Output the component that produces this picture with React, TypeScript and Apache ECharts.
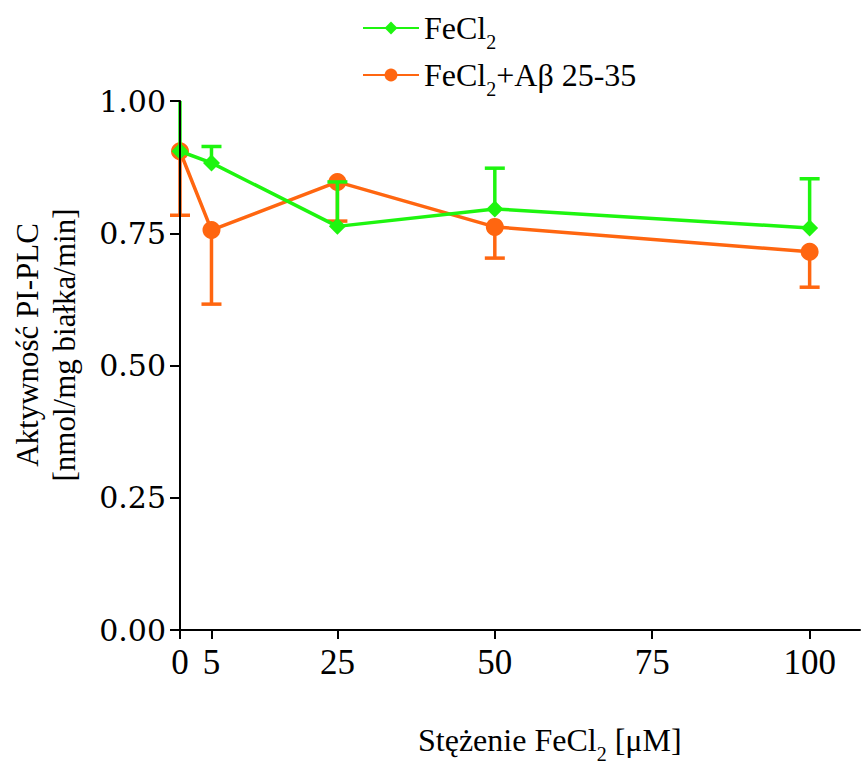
import React, { useEffect, useRef } from "react";
import * as echarts from "echarts";

const concentrations = [0, 5, 25, 50, 100];
const fecl2Mean = [0.905, 0.883, 0.763, 0.796, 0.76];
const fecl2ErrUp = [0.1, 0.031, 0.084, 0.077, 0.093];
const abMean = [0.905, 0.756, 0.847, 0.762, 0.715];
const abErrDown = [0.121, 0.14, 0.074, 0.059, 0.067];
const xTicks = [0, 5, 25, 50, 75, 100];
const yTicks = [0, 0.25, 0.5, 0.75, 1.0];

const GREEN = "#1ef50f";
const ORANGE = "#ff6610";

function errorSeries(name: string, color: string, data: number[][], z: number) {
  return {
    type: "custom",
    name: name + "_err",
    z,
    clip: false,
    silent: true,
    data,
    renderItem: (params: any, api: any) => {
      const x = api.value(0);
      const y0 = api.value(1);
      const y1 = api.value(2);
      const p0 = api.coord([x, y0]);
      const p1 = api.coord([x, y1]);
      const top = params.coordSys.y;
      const clipped = p1[1] < top;
      const yEnd = clipped ? top : p1[1];
      const hw = 10;
      const style = { stroke: color, lineWidth: 3.5 };
      const children: any[] = [
        { type: "line", shape: { x1: p0[0], y1: p0[1], x2: p1[0], y2: yEnd }, style },
      ];
      if (!clipped) {
        children.push({ type: "line", shape: { x1: p1[0] - hw, y1: p1[1], x2: p1[0] + hw, y2: p1[1] }, style });
      }
      return { type: "group", children };
    },
  };
}

export default function App() {
  const ref = useRef<HTMLDivElement>(null);
  useEffect(() => {
    if (!ref.current) return;
    const chart = echarts.init(ref.current, undefined, { renderer: "svg" });
    const serif = "Times New Roman";
    const tickFont = "DejaVu Serif";
    const greenData = concentrations.map((c, i) => [c, fecl2Mean[i]]);
    const abData = concentrations.map((c, i) => [c, abMean[i]]);
    const greenErr = concentrations.map((c, i) => [c, fecl2Mean[i], fecl2Mean[i] + fecl2ErrUp[i]]);
    const abErr = concentrations.map((c, i) => [c, abMean[i], abMean[i] - abErrDown[i]]);
    const rich = {
      n: { fontFamily: serif, fontSize: 32, lineHeight: 34, color: "#000" },
      s: { fontFamily: serif, fontSize: 20, color: "#000", verticalAlign: "bottom", padding: [0, 0, -7, 0] },
    };
    chart.setOption({
      animation: false,
      backgroundColor: "#fff",
      grid: { left: 180, right: 3, top: 101, bottom: 134, containLabel: false },
      legend: {
        orient: "vertical",
        left: 362,
        top: 12,
        padding: 0,
        itemWidth: 56,
        itemHeight: 16,
        itemGap: 7,
        data: ["FeCl2", "FeCl2+Aβ 25-35"],
        formatter: (name: string) =>
          name === "FeCl2" ? "{n|FeCl}{s|2}" : "{n|FeCl}{s|2}{n|+Aβ 25-35}",
        textStyle: { rich, fontFamily: serif },
      },
      xAxis: {
        type: "value",
        min: 0,
        max: 108,
        z: 10,
        splitLine: { show: false },
        axisLine: { show: true, onZero: false, lineStyle: { color: "#000", width: 2 } },
        axisTick: { show: true, length: 9, lineStyle: { color: "#000", width: 2 }, customValues: xTicks },
        axisLabel: {
          customValues: xTicks,
          margin: 15,
          fontFamily: serif,
          fontSize: 35,
          color: "#000",
        },
      },
      yAxis: {
        type: "value",
        min: 0,
        max: 1,
        interval: 0.25,
        z: 10,
        splitLine: { show: false },
        axisLine: { show: true, onZero: false, lineStyle: { color: "#000", width: 2 } },
        axisTick: { show: true, length: 10, lineStyle: { color: "#000", width: 2 }, customValues: yTicks },
        axisLabel: {
          customValues: yTicks,
          margin: 14,
          fontFamily: tickFont,
          fontSize: 30,
          color: "#000",
          formatter: (v: number) => v.toFixed(2),
        },
      },
      graphic: [
        {
          type: "text",
          x: 46,
          y: 345,
          rotation: Math.PI / 2,
          style: {
            text: "Aktywność PI-PLC\n[nmol/mg białka/min]",
            fontFamily: serif,
            fontSize: 31,
            lineHeight: 37,
            fill: "#000",
            align: "center",
            verticalAlign: "middle",
          },
        },
        {
          type: "text",
          left: 418,
          top: 724,
          style: {
            rich,
            text: "{n|Stężenie FeCl}{s|2}{n| [μM]}",
          },
        },
      ],
      series: [
        errorSeries("FeCl2+Aβ 25-35", ORANGE, abErr, 2),
        {
          type: "line",
          name: "FeCl2+Aβ 25-35",
          data: abData,
          z: 3,
          symbol: "circle",
          symbolSize: 18,
          lineStyle: { color: ORANGE, width: 3.5 },
          itemStyle: { color: ORANGE },
        },
        errorSeries("FeCl2", GREEN, greenErr, 4),
        {
          type: "line",
          name: "FeCl2",
          data: greenData,
          z: 5,
          symbol: "diamond",
          symbolSize: 17,
          lineStyle: { color: GREEN, width: 3.5 },
          itemStyle: { color: GREEN },
        },
      ],
    });
    return () => chart.dispose();
  }, []);
  return <div ref={ref} style={{ width: 863, height: 764, position: "absolute", left: 0, top: 0 }} />;
}
